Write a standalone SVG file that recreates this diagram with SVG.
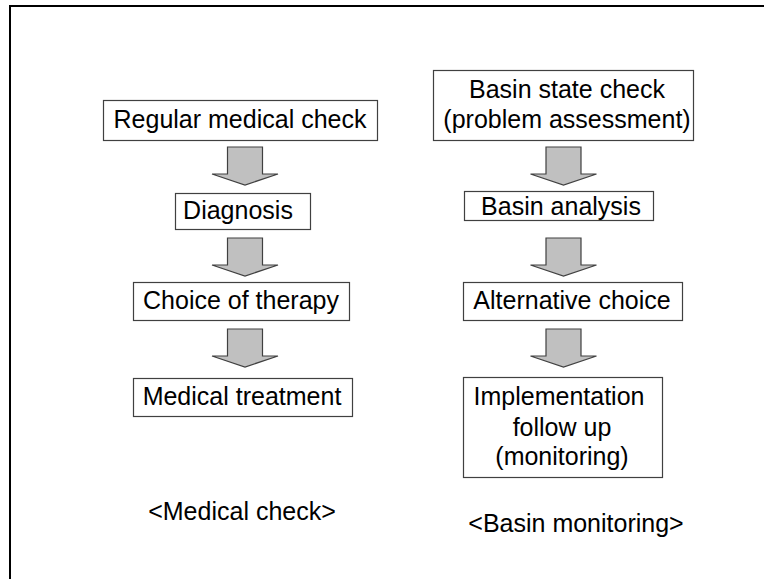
<svg xmlns="http://www.w3.org/2000/svg" width="764" height="579" viewBox="0 0 764 579">
  <style>
    .box { fill: #ffffff; stroke: #404040; stroke-width: 1.2; }
    .label { font-family: "Liberation Sans", Arial, sans-serif; font-size: 25px; fill: #000000; text-anchor: middle; }
    .flow { fill: #c0c0c0; stroke: #404040; stroke-width: 1.2; stroke-linejoin: miter; }
  </style>
  <defs>
    <!-- block arrow pointing down, origin at top of shaft centre -->
    <path id="downArrow" d="M -17.5 0 H 17.5 V 27 H 33 L 0 38 L -33 27 H -17.5 Z"/>
  </defs>

  <rect width="764" height="579" fill="#ffffff"/>
  <!-- outer frame (runs past the right and bottom edges) -->
  <rect x="10" y="6" width="800" height="620" fill="none" stroke="#000000" stroke-width="2"/>

  <!-- left column: medical check -->
  <g id="regular-medical-check">
    <rect class="box" x="103.5" y="100.5" width="274" height="40"/>
    <text class="label" x="240" y="128">Regular medical check</text>
  </g>
  <g id="diagnosis">
    <rect class="box" x="175.5" y="193.5" width="135" height="36"/>
    <text class="label" x="238" y="219">Diagnosis</text>
  </g>
  <g id="choice-of-therapy">
    <rect class="box" x="133.5" y="282.5" width="216" height="38"/>
    <text class="label" x="241" y="309">Choice of therapy</text>
  </g>
  <g id="medical-treatment">
    <rect class="box" x="133.5" y="378.5" width="219" height="38"/>
    <text class="label" x="242" y="405">Medical treatment</text>
  </g>

  <!-- right column: basin monitoring -->
  <g id="basin-state-check">
    <rect class="box" x="433.5" y="70.5" width="260" height="70"/>
    <text class="label" x="567" y="98">Basin state check</text>
    <text class="label" x="567" y="128">(problem assessment)</text>
  </g>
  <g id="basin-analysis">
    <rect class="box" x="464.5" y="191.5" width="189" height="29"/>
    <text class="label" x="561" y="215">Basin analysis</text>
  </g>
  <g id="alternative-choice">
    <rect class="box" x="463.5" y="282.5" width="219" height="38"/>
    <text class="label" x="572" y="309">Alternative choice</text>
  </g>
  <g id="implementation">
    <rect class="box" x="463.5" y="377.5" width="199" height="100"/>
    <text class="label" x="559" y="405">Implementation</text>
    <text class="label" x="562" y="436">follow up</text>
    <text class="label" x="562" y="465">(monitoring)</text>
  </g>

  <!-- connectors -->
  <g id="connectors">
    <use href="#downArrow" class="flow" x="245" y="147"/>
    <use href="#downArrow" class="flow" x="245" y="238"/>
    <use href="#downArrow" class="flow" x="245" y="329"/>
    <use href="#downArrow" class="flow" x="563.5" y="147"/>
    <use href="#downArrow" class="flow" x="563.5" y="238"/>
    <use href="#downArrow" class="flow" x="563.5" y="329"/>
  </g>

  <!-- column captions -->
  <g id="caption-medical">
    <text class="label" x="242" y="520">&lt;Medical check&gt;</text>
  </g>
  <g id="caption-basin">
    <text class="label" x="576" y="532">&lt;Basin monitoring&gt;</text>
  </g>
</svg>
